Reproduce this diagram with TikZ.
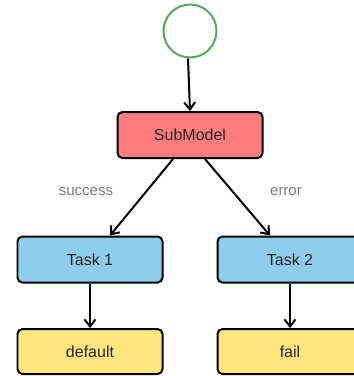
\documentclass[tikz,border=0pt]{standalone}
\usepackage{fontspec}
\setmainfont{Liberation Sans}
\usepackage{xcolor}
\usetikzlibrary{arrows.meta}

\definecolor{subred}{RGB}{255,125,125}
\definecolor{taskblue}{RGB}{142,206,236}
\definecolor{endyellow}{RGB}{255,230,125}
\definecolor{startgreen}{RGB}{88,168,92}
\definecolor{lblgray}{RGB}{125,125,125}

\begin{document}
\begin{tikzpicture}[
    x=1pt, y=-1pt,
    box/.style    = {draw,line width=2pt,rounded corners=5pt,minimum width=145pt,minimum height=46pt,font=\fontsize{16}{19}\selectfont,text=black!85},
    sub/.style    = {box,fill=subred},
    task/.style   = {box,fill=taskblue},
    outbox/.style = {box,fill=endyellow,minimum height=45pt},
    start/.style  = {draw=startgreen,circle,line width=2pt,minimum size=53pt,fill=white},
    lbl/.style    = {font=\fontsize{15}{18}\selectfont,text=lblgray},
    -{Straight Barb[length=7pt,width=11pt]}, line width=2pt
  ]
  \clip (0,0) rectangle (354,376);

  \node[start]  (S)  at (190, 31)  {};
  \node[sub]    (M)  at (190,135)  {SubModel};
  \node[task]   (T1) at (90,259.5) {Task 1};
  \node[task]   (T2) at (290,259.5){Task 2};
  \node[outbox] (D)  at (90,351.5) {default};
  \node[outbox] (F)  at (290,351.5){fail};

  \draw ([xshift=-2pt]S.south) -- (M.north);
  \draw ([xshift=-17pt]M.south) -- ([xshift=20pt]T1.north);
  \draw ([xshift=15pt]M.south)  -- ([xshift=-20pt]T2.north);
  \draw (T1) -- (D);
  \draw (T2) -- (F);

  \node[lbl] (LS) at (86,192)  {success};
  \node[lbl] (LE) at (286,192) {error};

\end{tikzpicture}
\end{document}
